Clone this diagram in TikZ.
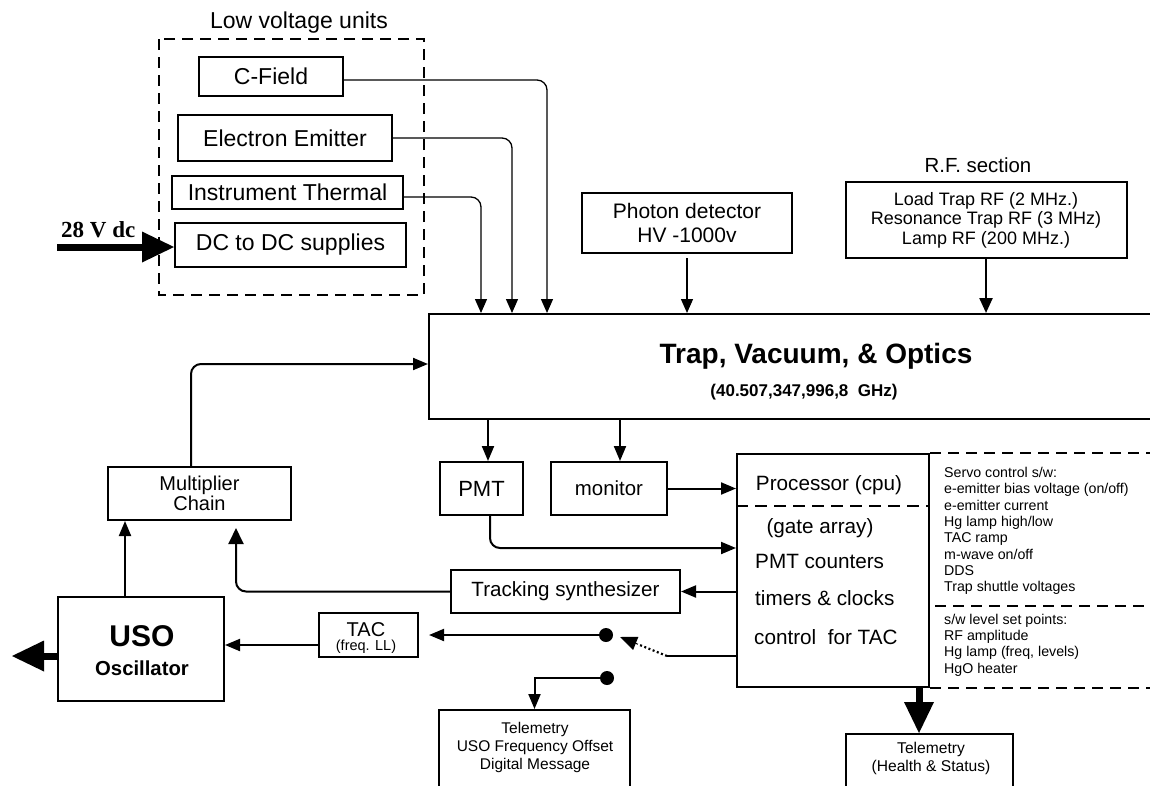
\documentclass[tikz,border=0pt]{standalone}
\usepackage{fontspec}
\setmainfont{Liberation Sans}
\newfontfamily\timesfam{Liberation Serif}
\usetikzlibrary{arrows.meta,calc}
\newcommand\fsz[2]{\fontsize{#1pt}{#2pt}\selectfont}
\begin{document}
\begin{tikzpicture}[x=1pt,y=-1pt,
  box/.style={draw, line width=2pt, inner sep=0pt, align=center},
  txt/.style={inner sep=0pt},
  cthin/.style={line width=1.3pt, -{Triangle[length=14pt,width=12pt]}},
  cmed/.style={line width=2pt, -{Triangle[length=15pt,width=12pt]}},
  cbig/.style={line width=7pt, -{Triangle[length=32pt,width=31pt,line width=0pt]}},
  dsh/.style={line width=2.3pt, dash pattern=on 11pt off 7pt},
  dotcirc/.style={circle, fill, inner sep=0pt, minimum size=14pt},
  lv/.style={font=\fsz{23}{27}},
]
\useasboundingbox (0,0) rectangle (1150,785);
\clip (0,0) rectangle (1150,785);
\fill[white] (0,0) rectangle (1150,785);

% ---------- Low voltage units ----------
\node[txt, lv, anchor=base] (lvt) at (299,28) {Low voltage units};
\draw[dsh] (159,39) rectangle (424,295);
\node[box, lv, minimum width=144pt, minimum height=39pt] (cfield) at (271,76.5) {C-Field};
\node[box, lv, minimum width=214pt, minimum height=46pt] (emitter) at (285,138) {Electron Emitter};
\node[box, lv, minimum width=231pt, minimum height=33pt] (thermal) at (287.5,192.5) {Instrument Thermal};
\node[box, lv, minimum width=231pt, minimum height=44pt] (dcdc) at (290.5,245) {DC to DC supplies};
\node[txt, anchor=base west, font=\timesfam\bfseries\fsz{23}{27}] (vdc) at (61,237) {28 V dc};
\coordinate (vin) at (57,247);
\draw[cbig] (vin) -- (vin -| dcdc.west);

% ---------- Photon detector / RF ----------
\node[box, minimum width=210pt, minimum height=60pt, font=\fsz{21}{24}] (photon) at (687,223) {Photon detector\\HV -1000v};
\node[txt, anchor=base, font=\fsz{20.4}{24}] (rft) at (978,172) {R.F. section};
\node[box, minimum width=281pt, minimum height=76pt, font=\fsz{18}{19.5}] (rf) at (986,220) {Load Trap RF (2 MHz.)\\Resonance Trap RF (3 MHz)\\Lamp RF (200 MHz.)};

% ---------- Trap ----------
\node[box, minimum width=740pt, minimum height=105pt, anchor=north west] (trap) at (428,313) {};
\node[txt, anchor=base, font=\bfseries\fsz{28}{32}] (trapt) at (816,363) {Trap, Vacuum, \& Optics};
\node[txt, anchor=base, font=\bfseries\fsz{17}{20}] (traps) at (804,396) {(40.507,347,996,8\ \ GHz)};

% connectors into trap
\draw[cthin, rounded corners=10pt] ([yshift=-3.5pt]cfield.east) -| ([xshift=119pt]trap.north west);
\draw[cthin, rounded corners=10pt] (emitter.east) -| ([xshift=84pt]trap.north west);
\draw[cthin, rounded corners=10pt] ([yshift=-4.5pt]thermal.east) -| ([xshift=53pt]trap.north west);
\coordinate (pha) at ([yshift=-4pt]photon.south);
\draw[cthin] (pha) -- (pha |- trap.north);
\draw[line width=2.3pt, -{Triangle[length=15pt,width=13pt]}] (rf.south) -- (rf.south |- trap.north);

% ---------- Middle row ----------
\node[box, minimum width=183pt, minimum height=53pt, font=\fsz{20}{16}] (mult) at (199.5,493.5) {Multiplier\\Chain};
\node[box, minimum width=83pt, minimum height=53pt, font=\fsz{22}{26}] (pmt) at (481.5,488.5) {PMT};
\node[box, minimum width=116pt, minimum height=53pt, font=\fsz{20.4}{24}] (monitor) at (609,488.5) {monitor};
\node[box, minimum width=229pt, minimum height=43pt, font=\fsz{20.6}{24}] (track) at (565.5,591.5) {Tracking synthesizer};

% Processor
\node[box, minimum width=192pt, minimum height=233pt] (proc) at (833,570.5) {};
\draw[line width=2pt, dash pattern=on 12pt off 7pt] ([yshift=64.5pt]proc.west) -- ([yshift=64.5pt]proc.east);
\node[txt, anchor=base, font=\fsz{20.7}{24}] (cpu) at (829,490.4) {Processor (cpu)};
\node[txt, anchor=base, font=\fsz{20.7}{24}] (gate) at (820,533.4) {(gate array)};
\node[txt, anchor=base west, font=\fsz{20.7}{24}] (pcnt) at (755,568.4) {PMT counters};
\node[txt, anchor=base west, font=\fsz{20.7}{24}] (tclk) at (755,605.4) {timers \& clocks};
\node[txt, anchor=base west, font=\fsz{20.7}{24}] (ctac) at (754,644.4) {control\ \ for TAC};

% right dashed region
\coordinate (re) at (1160,0);
\coordinate (mdash) at (935,606);
\draw[dsh] (proc.north east) -- (proc.north east -| re);
\draw[dsh] (mdash) -- (mdash -| re);
\draw[dsh] (proc.south east) -- (proc.south east -| re);
\foreach \t [count=\i] in {Servo control s/w:, e-emitter bias voltage (on/off), e-emitter current, Hg lamp high/low, TAC ramp, m-wave on/off, DDS, Trap shuttle voltages}
  \node[txt, anchor=base west, font=\fsz{14.2}{16}] (sv\i) at (944,{477.5+16.3*(\i-1)}) {\t};
\foreach \t [count=\i] in {s/w level set points:, RF amplitude, {Hg lamp (freq, levels)}, HgO heater}
  \node[txt, anchor=base west, font=\fsz{14.2}{16}] (sl\i) at (944,{624.3+16.3*(\i-1)}) {\t};

% USO and TAC
\node[box, minimum width=166pt, minimum height=104pt] (uso) at (141,649) {};
\node[txt, anchor=base, font=\bfseries\fsz{30}{34}] (usot) at (142,646) {USO};
\node[txt, anchor=base, font=\bfseries\fsz{20.3}{24}] (osc) at (142,675) {Oscillator};
\node[box, minimum width=99pt, minimum height=44pt] (tac) at (368.5,635) {};
\node[txt, anchor=base, font=\fsz{20}{24}] (tact) at (366,636) {TAC};
\node[txt, anchor=base, font=\fsz{14.5}{18}] (tacf) at (366,650) {(freq. LL)};

% switch dots
\node[dotcirc] (d1) at (606,635) {};
\node[dotcirc] (d2) at (607,678) {};

% Telemetry boxes
\node[box, minimum width=191pt, minimum height=100pt, anchor=north] (telU) at (534.5,709) {};
\node[txt, anchor=base, font=\fsz{15.5}{18}] (tu1) at (535,733) {Telemetry};
\node[txt, anchor=base, font=\fsz{15.5}{18}] (tu2) at (535,751) {USO Frequency Offset};
\node[txt, anchor=base, font=\fsz{15.5}{18}] (tu3) at (535,769) {Digital Message};
\node[box, minimum width=167pt, minimum height=80pt, anchor=north] (telH) at (929.5,733) {};
\node[txt, anchor=base, font=\fsz{15.6}{18}] (th1) at (931,753) {Telemetry};
\node[txt, anchor=base, font=\fsz{15.6}{18}] (th2) at (931,771) {(Health \& Status)};

% ---------- connectors ----------
\draw[cmed, rounded corners=10pt] ([xshift=-8.5pt]mult.north) |- ([yshift=2.5pt]trap.west);
\coordinate (pa) at ([xshift=6.5pt]pmt.north);
\draw[cmed] (pa |- trap.south) -- (pa);
\coordinate (ma) at ([xshift=11pt]monitor.north);
\draw[cmed] (ma |- trap.south) -- (ma);
\draw[cmed] (monitor.east) -- (monitor.east -| proc.west);
\draw[cmed, rounded corners=10pt] ([xshift=8.5pt]pmt.south) |- ([yshift=22.5pt]proc.west);
\draw[cmed] ([yshift=-21pt]proc.west) -- (track.east);
\draw[line width=2pt, -{Triangle[length=16pt,width=15pt]}, rounded corners=10pt] (track.west) -| ([xshift=36.5pt,yshift=-7pt]mult.south);
\coordinate (uo) at ([xshift=-16pt]uso.north);
\draw[cmed] (uo) -- (uo |- mult.south);
\coordinate (tacout) at ([yshift=-10pt]tac.west);
\draw[cmed] (tacout) -- (tacout -| uso.east);
\coordinate (tacin) at ([xshift=10pt]tac.east);
\draw[cmed] (d1.center) -- (tacin);
\coordinate (sw) at (667,656);
\coordinate (swt) at (620,637);
\coordinate (swm) at ($(sw)!0.62!(swt)$);
\draw[line width=2pt] ([yshift=-85.5pt]proc.west) -- (sw);
\draw[line width=2.2pt, dash pattern=on 2pt off 2.5pt] (sw) -- (swm);
\draw[line width=1pt, -{Triangle[length=17pt,width=14pt]}] (swm) -- (swt);
\draw[cmed] (d2.center) -| (telU.north);
\coordinate (uw) at ([yshift=-7pt]uso.west);
\coordinate (uout) at (12,656);
\draw[cbig] (uw) -- (uout);
\coordinate (pb) at ([xshift=86pt]proc.south);
\draw[line width=7pt, -{Triangle[length=31pt,width=30pt,line width=0pt]}] (pb) -- (pb |- telH.north);
\end{tikzpicture}
\end{document}
